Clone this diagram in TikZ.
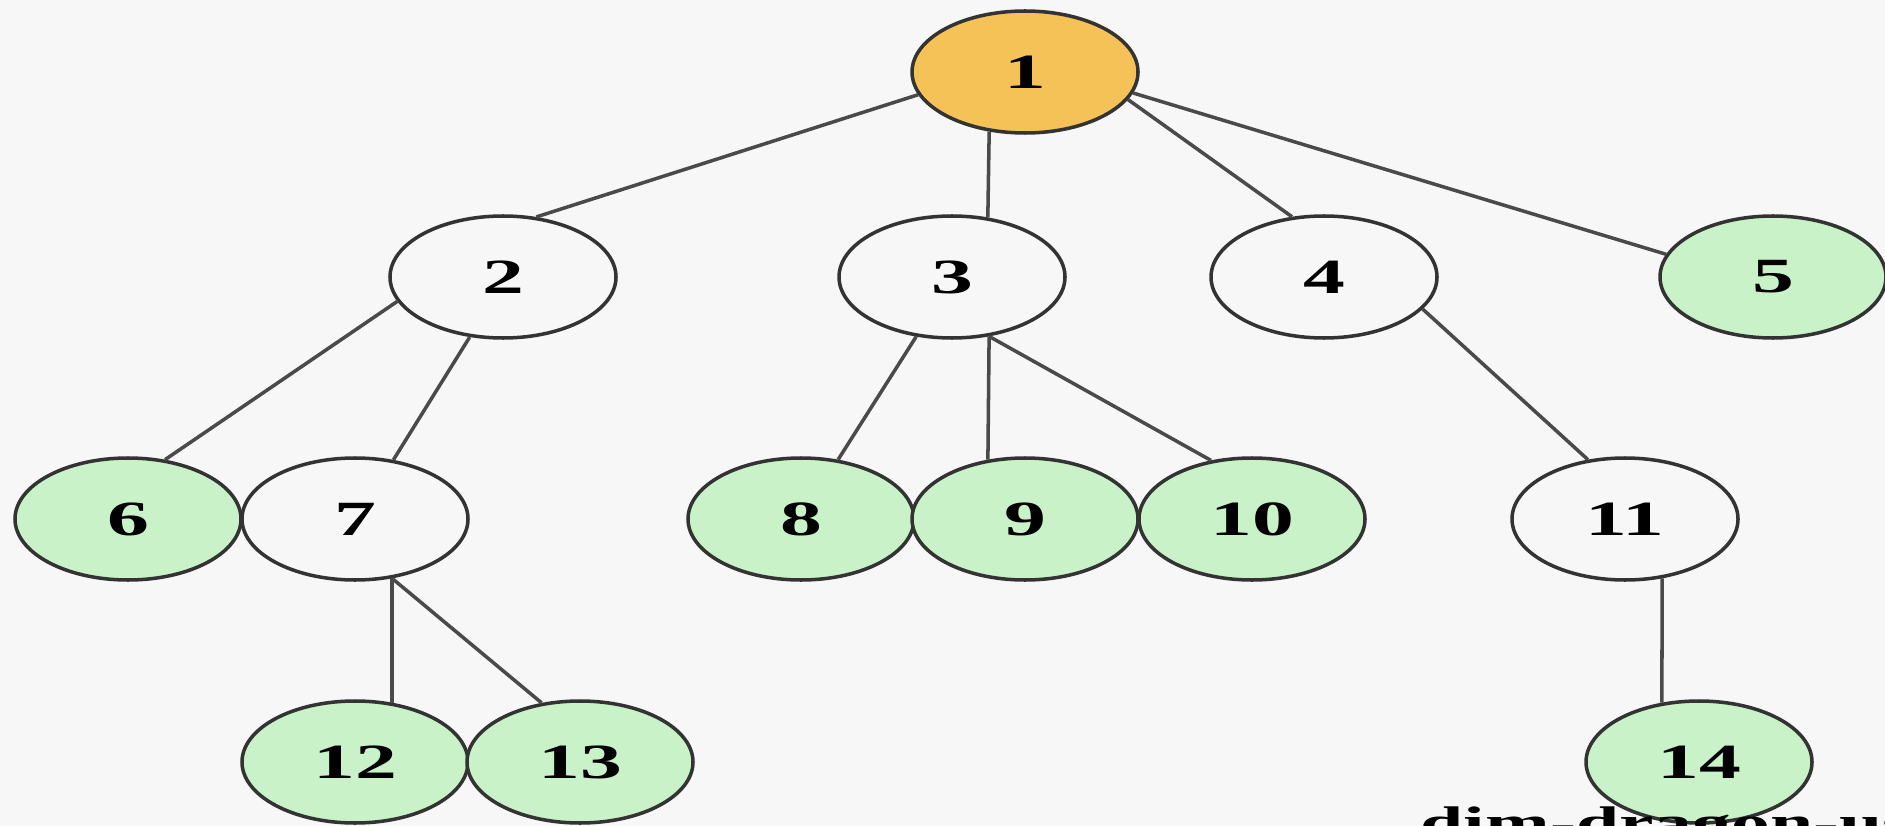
\documentclass[tikz,border=0pt]{standalone}
\usepackage{graphicx}
\usepackage{fontspec}
\setmainfont{Liberation Serif}
\usetikzlibrary{shapes.geometric}
\definecolor{bgcol}{HTML}{F7F7F7}
\definecolor{rootcol}{HTML}{F5C257}
\definecolor{leafcol}{HTML}{C9F2C9}
\definecolor{linkcol}{HTML}{4A4A4A}
\newcommand{\wide}[1]{\scalebox{1.7}[1]{#1}}

\begin{document}
\begin{tikzpicture}[
    vtx/.style={ellipse, draw=black!80, line width=1pt, fill=bgcol, minimum width=2.26cm, minimum height=1.22cm, inner sep=0pt, font=\bfseries\fontsize{14}{14}\selectfont},
    root/.style={vtx, fill=rootcol},
    leaf/.style={vtx, fill=leafcol},
    link/.style={draw=linkcol, line width=1pt}]
    \clip (0,0) rectangle (18.85,-8.26);
    \fill[bgcol] (0,0) rectangle (18.85,-8.26);
    % nodes
    \node[root] (n1) at (10.25,-0.72) {\wide{1}};
    \node[vtx] (n2) at (5.03,-2.77) {\wide{2}};
    \node[vtx] (n3) at (9.52,-2.77) {\wide{3}};
    \node[vtx] (n4) at (13.24,-2.77) {\wide{4}};
    \node[leaf] (n5) at (17.73,-2.77) {\wide{5}};
    \node[leaf] (n6) at (1.28,-5.19) {\wide{6}};
    \node[vtx] (n7) at (3.55,-5.19) {\wide{7}};
    \node[leaf] (n8) at (8.01,-5.19) {\wide{8}};
    \node[leaf] (n9) at (10.25,-5.19) {\wide{9}};
    \node[leaf] (n10) at (12.52,-5.19) {\wide{10}};
    \node[vtx] (n11) at (16.25,-5.19) {\wide{11}};
    \node[leaf] (n12) at (3.55,-7.62) {\wide{12}};
    \node[leaf] (n13) at (5.80,-7.62) {\wide{13}};
    \node[leaf] (n14) at (16.99,-7.62) {\wide{14}};
    % edges
    \draw[link] (n1.192)--(n2.61);
    \draw[link] (n1.239)--(n3.59);
    \draw[link] (n1.345)--(n4.118);
    \draw[link] (n1.349)--(n5.168);
    \draw[link] (n2.193)--(n6.58);
    \draw[link] (n2.241)--(n7.57);
    \draw[link] (n3.239)--(n8.58);
    \draw[link] (n3.302)--(n9.122);
    \draw[link] (n3.302)--(n10.125);
    \draw[link] (n4.342)--(n11.122);
    \draw[link] (n7.302)--(n12.58);
    \draw[link] (n7.302)--(n13.123);
    \draw[link] (n11.302)--(n14.122);
    \node[anchor=base west, inner sep=0pt, font=\bfseries\fontsize{13}{13}\selectfont] (mark) at (14.2,-8.38) {\wide{dim-dragon-us}};
\end{tikzpicture}
\end{document}
